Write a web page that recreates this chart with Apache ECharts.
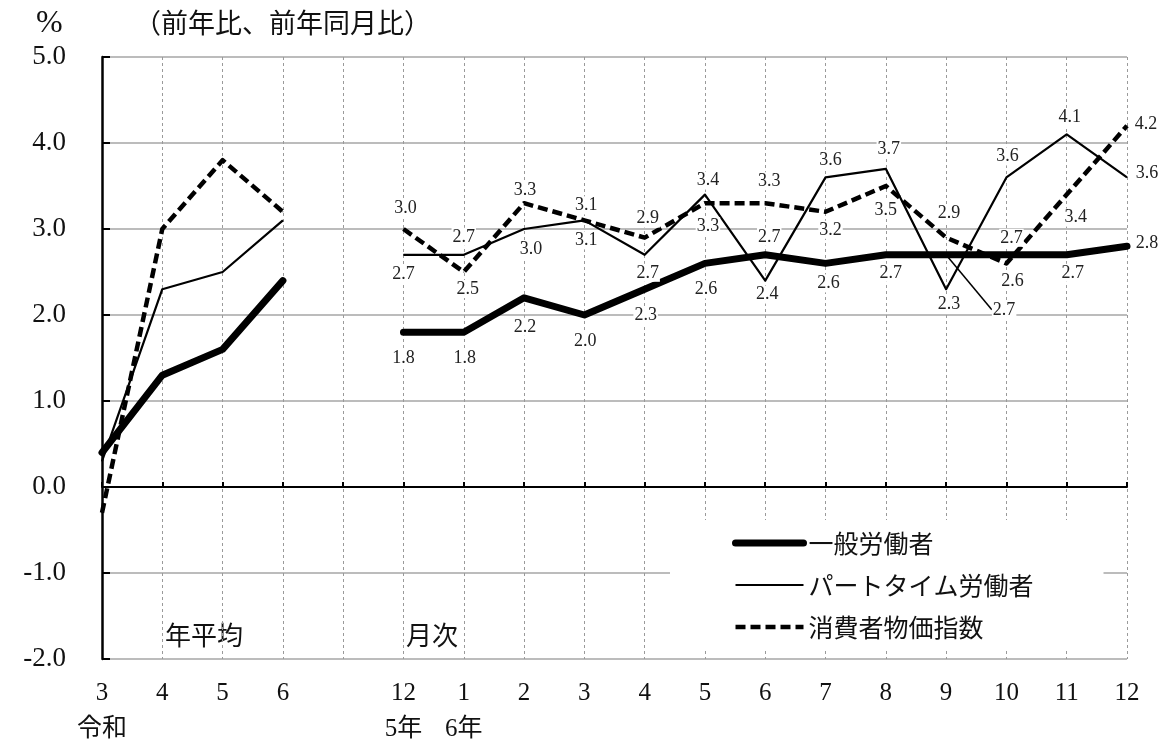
<!DOCTYPE html>
<html><head><meta charset="utf-8">
<script src="https://cdn.jsdelivr.net/npm/echarts@6/dist/echarts.min.js"></script>
<style>html,body{margin:0;padding:0;background:#fff}#c{width:1168px;height:747px}</style>
</head><body><div id="c"></div>
<script>
// ---- data ----
const categories = ['3','4','5','6','','12','1','2','3','4','5','6','7','8','9','10','11','12'];
const subLabels  = ['令和','','','','','5年','6年','','','','','','','','','','',''];
const seriesNames = ['一般労働者','パートタイム労働者','消費者物価指数'];
const general  = [0.4,1.3,1.6,2.4,null,1.8,1.8,2.2,2.0,2.3,2.6,2.7,2.6,2.7,2.7,2.7,2.7,2.8];
const partTime = [0.3,2.3,2.5,3.1,null,2.7,2.7,3.0,3.1,2.7,3.4,2.4,3.6,3.7,2.3,3.6,4.1,3.6];
const cpi      = [-0.3,3.0,3.8,3.2,null,3.0,2.5,3.3,3.1,2.9,3.3,3.3,3.2,3.5,2.9,2.6,3.4,4.2];
const yTicks = {min:-2, max:5, interval:1};
const unitText = '%';
const noteText = '（前年比、前年同月比）';
const annualText = '年平均';
const monthlyText = '月次';

// ---- label placement (style only) ----
const FIRST_LABELED = 5;
const offGeneral = [null,null,null,null,null,[0,26],[1,26],[1,29],[1,26],[1,26],[1,26],[4,-18],[3,20],[5,18],[58,55],[5,-17],[6,18],[20,-3]];
const offPart    = [null,null,null,null,null,[0,19],[0,-18],[7,20],[2,20],[3,18],[3,-14],[2,14],[5,-17],[3,-20],[3,15],[1,-21],[3,-17],[20,-4]];
const offCpi     = [null,null,null,null,null,[2,-21],[4,17],[1,-13],[2,-15],[3,-19],[3,23],[4,-22],[5,18],[0,24],[3,-24],[6,18],[9,23],[19,-2]];
const LEADER_INDEX = 14;

const NUM_FONT = "'Liberation Serif','Noto Sans CJK JP',serif";
const JP_FONT = "'Noto Sans CJK JP','Liberation Serif',sans-serif";

function buildData(values, offsets, useOffset, leaderIndex){
  return values.map((v,i)=>{
    if (v === null) return null;
    const o = offsets[i];
    return {
      value:v,
      label:{show: i>=FIRST_LABELED && !!o, offset: (useOffset && o) ? o : [0,0]},
      labelLine:{show: i===leaderIndex}
    };
  });
}
const labelStyle = {
  position:'inside', color:'#222', fontSize:18, fontFamily:NUM_FONT,
  backgroundColor:'#fff', padding:[0,1],
  formatter: p => (p.value).toFixed(1)
};

const chart = echarts.init(document.getElementById('c'));
chart.setOption({
  animation:false,
  backgroundColor:'#fff',
  grid:{left:102, right:41, top:57, bottom:87},
  xAxis:[{
    type:'category', data:categories, boundaryGap:false, position:'bottom',
    axisLine:{show:false, onZero:false}, axisTick:{show:false},
    axisLabel:{interval:0, margin:16, fontSize:25, lineHeight:36, color:'#111', fontFamily:NUM_FONT,
      formatter:(v,i)=> subLabels[i] ? categories[i]+'\n'+subLabels[i] : categories[i]},
    splitLine:{show:true, interval:0, lineStyle:{color:'#9a9a9a', width:1, type:[3,3]}}
  },{
    type:'category', data:categories, boundaryGap:false, position:'bottom',
    axisLine:{show:true, onZero:true, lineStyle:{color:'#000', width:2}},
    axisTick:{show:true, inside:true, length:5, interval:0, lineStyle:{color:'#000', width:2}},
    axisLabel:{show:false}, splitLine:{show:false}
  }],
  yAxis:{
    type:'value', min:yTicks.min, max:yTicks.max, interval:yTicks.interval,
    axisLine:{show:true, lineStyle:{color:'#000', width:2.5}},
    axisTick:{show:true, inside:true, length:8, lineStyle:{color:'#000', width:2}},
    axisLabel:{margin:36, fontSize:27, color:'#111', fontFamily:NUM_FONT, formatter:v=>v.toFixed(1)},
    splitLine:{lineStyle:{color:'#a6a6a6', width:1.5}}
  },
  legend:{
    orient:'vertical', left:670, top:520,
    padding:[10,70,8,62], backgroundColor:'#fff',
    itemWidth:68, itemHeight:14, itemGap:16,
    textStyle:{fontSize:25, lineHeight:26, color:'#111', fontFamily:JP_FONT},
    data:[
      {name:seriesNames[0], itemStyle:{opacity:0}, lineStyle:{color:'#000', width:7, cap:'round'}},
      {name:seriesNames[1], itemStyle:{opacity:0}, lineStyle:{color:'#000', width:2.2}},
      {name:seriesNames[2], itemStyle:{opacity:0}, lineStyle:{color:'#000', width:4.5, type:[10,5]}}
    ]
  },
  series:[
    {name:seriesNames[0], type:'line', data:buildData(general, offGeneral, false, LEADER_INDEX), xAxisIndex:0,
      symbol:'circle', symbolSize:1, itemStyle:{color:'#000'},
      lineStyle:{color:'#000', width:7, cap:'round', join:'round'},
      label:labelStyle,
      labelLine:{show:false, lineStyle:{color:'#000', width:1.5}},
      labelLayout: p => {
        const o = offGeneral[p.dataIndex];
        return o ? {dx:o[0], dy:o[1]} : {};
      }
    },
    {name:seriesNames[1], type:'line', data:buildData(partTime, offPart, true, -1), xAxisIndex:0,
      symbol:'circle', symbolSize:1, itemStyle:{color:'#000'},
      lineStyle:{color:'#000', width:2.2, join:'round'},
      label:labelStyle},
    {name:seriesNames[2], type:'line', data:buildData(cpi, offCpi, true, -1), xAxisIndex:0,
      symbol:'circle', symbolSize:1, itemStyle:{color:'#000'},
      lineStyle:{color:'#000', width:4.5, type:[10,5], join:'round'},
      label:labelStyle}
  ],
  graphic:[
    {type:'text', left:36, top:8, style:{text:unitText, fontSize:32, fontFamily:NUM_FONT, fill:'#111'}},
    {type:'text', left:134, top:9, style:{text:noteText, fontSize:27, fontFamily:JP_FONT, fill:'#111'}},
    {type:'text', left:165, top:622, style:{text:annualText, fontSize:26, fontFamily:JP_FONT, fill:'#111'}},
    {type:'text', left:406, top:622, style:{text:monthlyText, fontSize:26, fontFamily:JP_FONT, fill:'#111'}}
  ]
});
</script></body></html>
